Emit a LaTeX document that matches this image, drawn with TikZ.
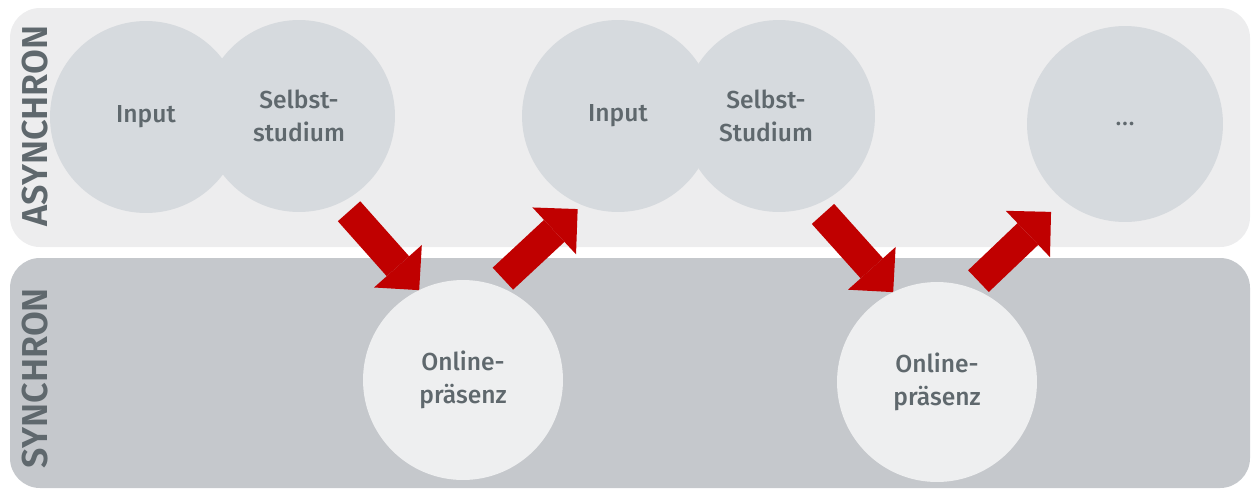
\documentclass[tikz,border=0pt]{standalone}
\usepackage{fontspec}
\setmainfont{Fira Sans}
\newfontfamily\medfont{Fira Sans Medium}
\newfontfamily\semifont{Fira Sans SemiBold}
\usetikzlibrary{arrows.meta}
\definecolor{bandlight}{HTML}{EDEDEE}
\definecolor{banddark}{HTML}{C5C8CC}
\definecolor{ballgray}{HTML}{D6DADE}
\definecolor{balllight}{HTML}{EEEFF0}
\definecolor{inkgray}{HTML}{5F686D}
\definecolor{flowred}{HTML}{C00000}
\tikzset{
  bandtitle/.style={rotate=90, text=inkgray, font=\semifont\fontsize{20.5}{24}\selectfont},
  ball/.style={circle, inner sep=0pt, outer sep=0pt, align=center, text=inkgray,
    font=\medfont\fontsize{14}{18.5}\selectfont},
  asyncball/.style={ball, fill=ballgray, minimum size=3.84cm},
  syncball/.style={ball, fill=balllight, minimum size=4cm},
  flow/.style={draw=flowred, line width=0.6cm,
    -{Triangle[length=0.64cm,width=1.28cm,line width=0pt]}},
}
\begin{document}
\begin{tikzpicture}[x=0.02cm,y=-0.02cm]
    \useasboundingbox (0,0) rectangle (1254,491);
    % the two bands
    \fill[bandlight, rounded corners=0.6cm] (10,8) rectangle (1250,247);
    \fill[banddark, rounded corners=0.6cm] (10,258) rectangle (1250,488);
    \node[bandtitle] (async) at (35,126) {ASYNCHRON};
    \node[bandtitle] (sync) at (35,378) {SYNCHRON};
    %%%%
    \node[asyncball] (in1) at (146,117) {Input};
    \node[asyncball] (self1) at (299,116) {Selbst-\\studium};
    \node[asyncball] (in2) at (618,116) {Input};
    \node[asyncball] (self2) at (779,116) {Selbst-\hspace*{0.52cm}\\Studium\hspace*{0.52cm}};
    \node[asyncball, minimum size=3.92cm, font=\fontsize{15}{18}\selectfont] (more) at (1125,124) {\dots};
    %%%%
    \node[syncball] (online1) at (463,380) {Online-\\präsenz};
    \node[syncball] (online2) at (937,382) {Online-\\präsenz};
    %%%%
    \draw[flow, shorten <=0.24cm] (self1.296) -- (online1.116);
    \draw[flow, shorten <=0.2cm, shorten >=0.12cm] (online1.71) -- (in2.248);
    \draw[flow, shorten <=0.24cm] (self2.292) -- (online2.116);
    \draw[flow, shorten <=0.2cm, shorten >=0.34cm] (online2.70) -- (more.231);
\end{tikzpicture}
\end{document}
